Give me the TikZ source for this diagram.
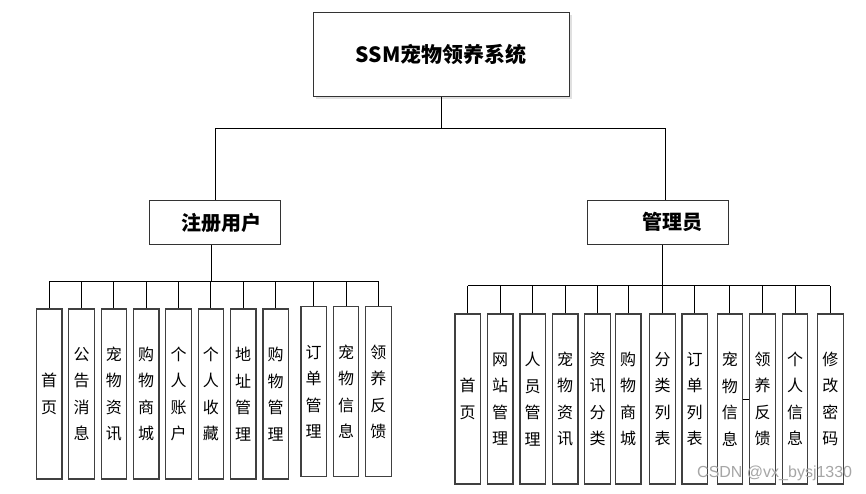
\documentclass[tikz,border=0pt]{standalone}
\usepackage{fontspec}
\newfontfamily\cjk{Noto Sans CJK SC}
\setsansfont{Liberation Sans}
\begin{document}
\begin{tikzpicture}[x=1pt,y=-1pt,
  leaf/.style={draw=black!75, line width=1.1pt, minimum width=25.5pt, minimum height=170pt, inner sep=0pt, align=center, font=\cjk\fontsize{16}{26.5}\selectfont},
  head/.style={draw=black!80, line width=1pt, inner sep=0pt, font=\cjk\bfseries\fontsize{20}{22}\selectfont},
  link/.style={line width=0.8pt, draw=black}]
\useasboundingbox (0,0) rectangle (866,493);
\fill[white] (0,0) rectangle (866,493);
% title
\fill[black!12] (316,15) rectangle (572,99);
\node[draw=black!80, line width=1pt, fill=white, minimum width=256pt, minimum height=84pt, inner sep=0pt, font=\cjk\bfseries\fontsize{21}{24}\selectfont] (top) at (441,54) {SSM宠物领养系统};
% headings
\node[head, minimum width=131pt, minimum height=44.3pt] (user) at (214.5,222.8) {\hspace{13pt}注册用户};
\node[head, minimum width=140.6pt, minimum height=44.3pt] (adm) at (658,222.2) {\hspace{28pt}管理员};
% top connectors
\coordinate (tbar) at (441,128);
\coordinate (tbl) at (215,128);
\coordinate (tbr) at (665.3,128);
\draw[link] (top.south) -- (tbar);
\draw[link] (tbl) -- (tbr);
\draw[link] (tbl) -- (tbl |- user.north);
\draw[link] (tbr) -- (tbr |- adm.north);
% left leaves
\foreach \x/\yy/\t [count=\i] in {49.2/394/首\\页, 81.5/394/公\\告\\消\\息, 113.8/394/宠\\物\\资\\讯, 146.2/394/购\\物\\商\\城, 178.5/394/个\\人\\账\\户, 210.8/394/个\\人\\收\\藏, 243.2/394/地\\址\\管\\理, 275.7/394/购\\物\\管\\理, 313.7/391.7/订\\单\\管\\理, 346/391.7/宠\\物\\信\\息, 378.3/391.7/领\\养\\反\\馈}
  \node[leaf] (l\i) at (\x,\yy) {\t};
\coordinate (lbus) at (211,281);
\draw[link] (user.south -| lbus) -- (lbus);
\draw[link] (l1.north |- lbus) -- (l11.north |- lbus);
\foreach \i in {1,...,11}
  \draw[link] (l\i.north) -- (l\i.north |- lbus);
% right leaves
\foreach \x/\t [count=\i] in {467.7/首\\页, 500.2/网\\站\\管\\理, 532.7/人\\员\\管\\理, 565.2/宠\\物\\资\\讯, 597.5/资\\讯\\分\\类, 628.2/购\\物\\商\\城, 662.5/分\\类\\列\\表, 694.7/订\\单\\列\\表, 729.8/宠\\物\\信\\息, 762.5/领\\养\\反\\馈, 795/个\\人\\信\\息, 830.3/修\\改\\密\\码}
  \node[leaf] (r\i) at (\x,399) {\t};
\coordinate (rbus) at (662.3,285.7);
\draw[link] (adm.south -| rbus) -- (rbus);
\draw[link] (r1.north |- rbus) -- (r12.north |- rbus);
\foreach \i in {1,...,12}
  \draw[link] (r\i.north) -- (r\i.north |- rbus);
\draw[link] (r9.east) -- (r10.west);
% watermark
\node[font=\sffamily\fontsize{16}{16}\selectfont, text=black!35, anchor=west, inner sep=0pt] (wm) at (697,473) {CSDN @vx\_bysj1330};
\end{tikzpicture}
\end{document}
